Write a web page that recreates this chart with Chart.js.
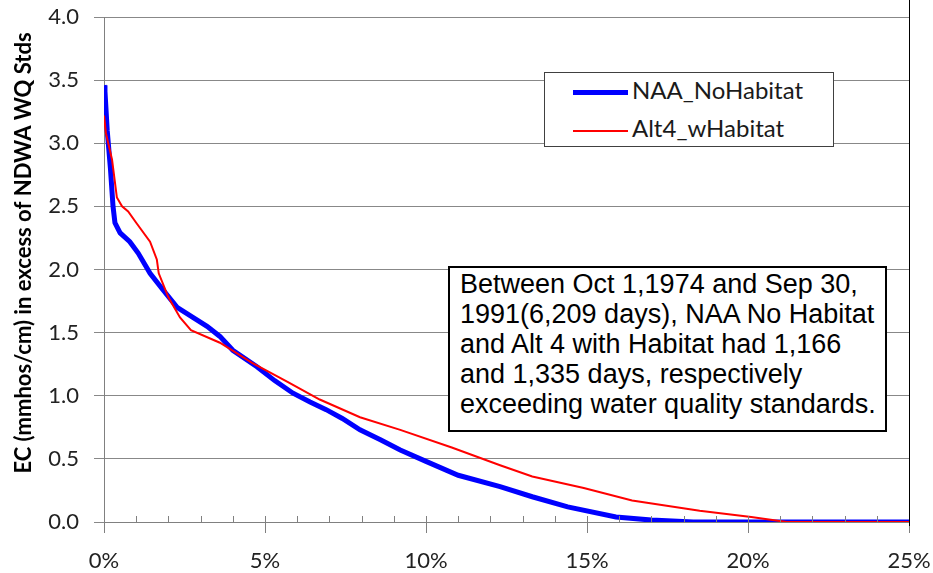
<!DOCTYPE html>
<html>
<head>
<meta charset="utf-8">
<script src="https://cdn.jsdelivr.net/npm/chart.js@4.4.1/dist/chart.umd.min.js"></script>
<style>
  html, body { margin: 0; padding: 0; background: #fff; }
  #wrap { position: relative; width: 933px; height: 573px; }
  #legendBox {
    position: absolute; left: 544px; top: 72px; width: 288px; height: 73px;
    background: #fff; border: 1px solid #404040;
    font-family: Lato, sans-serif; font-size: 24px; color: #1a1a1a;
  }
  .lg-row { position: absolute; left: 28px; height: 28px; line-height: 28px; white-space: nowrap; }
  .lg-line { display: inline-block; width: 55px; vertical-align: middle; margin-right: 4px; }
  #noteBox {
    position: absolute; left: 448px; top: 266px; width: 439px; height: 166px;
    background: #fff; border: 2px solid #000;
    font-family: "Liberation Sans", Arial, sans-serif; font-size: 27px; line-height: 30px;
    color: #000; padding: 1px 0 0 10px; box-sizing: border-box; white-space: nowrap;
  }
</style>
</head>
<body>
<div id="wrap">
  <canvas id="grafica" width="933" height="573"></canvas>
  <div id="legendBox">
    <div class="lg-row" style="top:3px"><span class="lg-line" style="border-top:5px solid #0000ff"></span>NAA_NoHabitat</div>
    <div class="lg-row" style="top:41px"><span class="lg-line" style="border-top:2px solid #ff0000"></span>Alt4_wHabitat</div>
  </div>
  <div id="noteBox">Between Oct 1,1974 and Sep 30,<br>1991(6,209 days), NAA No Habitat<br>and Alt 4 with Habitat had 1,166<br>and 1,335 days, respectively<br>exceeding water quality standards.</div>
</div>
<script>
// ─── DATOS ────────────────────────────────────────────────────────────────
const naaPct = [0, 0.03, 0.1, 0.2, 0.28, 0.34, 0.5, 0.8, 1.06, 1.43, 1.83, 2.27, 2.76, 3.2, 3.6, 4.0, 4.75, 5.3, 5.87, 6.4, 6.9, 7.4, 7.95, 8.6, 9.2, 10.0, 11.0, 12.3, 13.3, 14.4, 15.9, 17.0, 18.3, 25];
const naaEC  = [3.46, 3.41, 3.1, 2.8, 2.5, 2.37, 2.29, 2.22, 2.13, 1.97, 1.84, 1.70, 1.62, 1.55, 1.47, 1.36, 1.23, 1.12, 1.02, 0.95, 0.89, 0.82, 0.73, 0.65, 0.57, 0.48, 0.37, 0.28, 0.20, 0.12, 0.04, 0.015, 0, 0];

const altPct = [0, 0.06, 0.25, 0.4, 0.56, 0.75, 1.0, 1.43, 1.64, 1.7, 2.0, 2.36, 2.7, 3.6, 4.6, 5.7, 6.7, 7.95, 9.2, 10.8, 12.3, 13.3, 14.9, 16.4, 18.5, 20.1, 21.2, 25];
const altEC  = [3.22, 3.08, 2.87, 2.57, 2.50, 2.46, 2.37, 2.22, 2.08, 1.97, 1.78, 1.62, 1.52, 1.42, 1.26, 1.11, 0.97, 0.83, 0.73, 0.59, 0.45, 0.36, 0.27, 0.17, 0.09, 0.04, 0, 0];

const xTicks = [0, 5, 10, 15, 20, 25];
const yTicks = [0, 0.5, 1, 1.5, 2, 2.5, 3, 3.5, 4];
const yTitle = 'EC (mmhos/cm) in excess of NDWA WQ Stds';

const toPts = (xs, ys) => xs.map((x, i) => ({ x, y: ys[i] }));

// ─── EXTRAS: ticks menores, título Y, borde derecho ──────────────────────
const extras = {
  id: 'extras',
  afterDraw(c) {
    const ctx = c.ctx, xs = c.scales.x, a = c.chartArea;
    ctx.save();
    ctx.strokeStyle = '#808080';
    ctx.lineWidth = 1;
    for (let p = 1; p < 25; p++) {
      const px = Math.round(xs.getPixelForValue(p)) + 0.5;
      ctx.beginPath();
      ctx.moveTo(px, a.bottom - 6);
      ctx.lineTo(px, a.bottom);
      ctx.stroke();
    }
    ctx.strokeStyle = '#000';
    ctx.beginPath();
    ctx.moveTo(a.right + 0.5, 0);
    ctx.lineTo(a.right + 0.5, a.bottom + 4);
    ctx.stroke();

    ctx.translate(24, 253);
    ctx.rotate(-Math.PI / 2);
    ctx.fillStyle = '#000';
    ctx.font = 'bold 22px Lato';
    ctx.textAlign = 'center';
    ctx.textBaseline = 'middle';
    ctx.fillText(yTitle, 0, 0);
    ctx.restore();
  }
};

new Chart(document.getElementById('grafica'), {
  type: 'line',
  data: {
    datasets: [
      { label: 'NAA_NoHabitat', data: toPts(naaPct, naaEC), borderColor: '#0000ff', borderWidth: 5, pointRadius: 0, tension: 0, order: 2 },
      { label: 'Alt4_wHabitat', data: toPts(altPct, altEC), borderColor: '#ff0000', borderWidth: 2, pointRadius: 0, tension: 0, order: 1 }
    ]
  },
  options: {
    responsive: false,
    animation: false,
    layout: { padding: { top: 17, right: 24, left: 0, bottom: 0 } },
    plugins: { legend: { display: false }, tooltip: { enabled: false } },
    scales: {
      x: {
        type: 'linear', min: 0, max: 25,
        afterBuildTicks: s => { s.ticks = xTicks.map(v => ({ value: v })); },
        afterFit: s => { s.height = 51; s.paddingLeft = 0; s.paddingRight = 0; },
        grid: { drawOnChartArea: false, color: '#808080', tickLength: 11 },
        border: { color: '#808080' },
        ticks: { color: '#222', font: { family: 'Lato', size: 22 }, padding: 15, callback: v => v + '%', maxRotation: 0 }
      },
      y: {
        min: 0, max: 4,
        afterBuildTicks: s => { s.ticks = yTicks.map(v => ({ value: v })); },
        afterFit: s => { s.width = 104; s.paddingTop = 0; s.paddingBottom = 0; },
        grid: { color: '#888888', tickLength: 10 },
        border: { color: '#808080' },
        ticks: { color: '#222', font: { family: 'Lato', size: 22 }, padding: 15, callback: v => v.toFixed(1) }
      }
    }
  },
  plugins: [extras]
});
</script>
</body>
</html>
